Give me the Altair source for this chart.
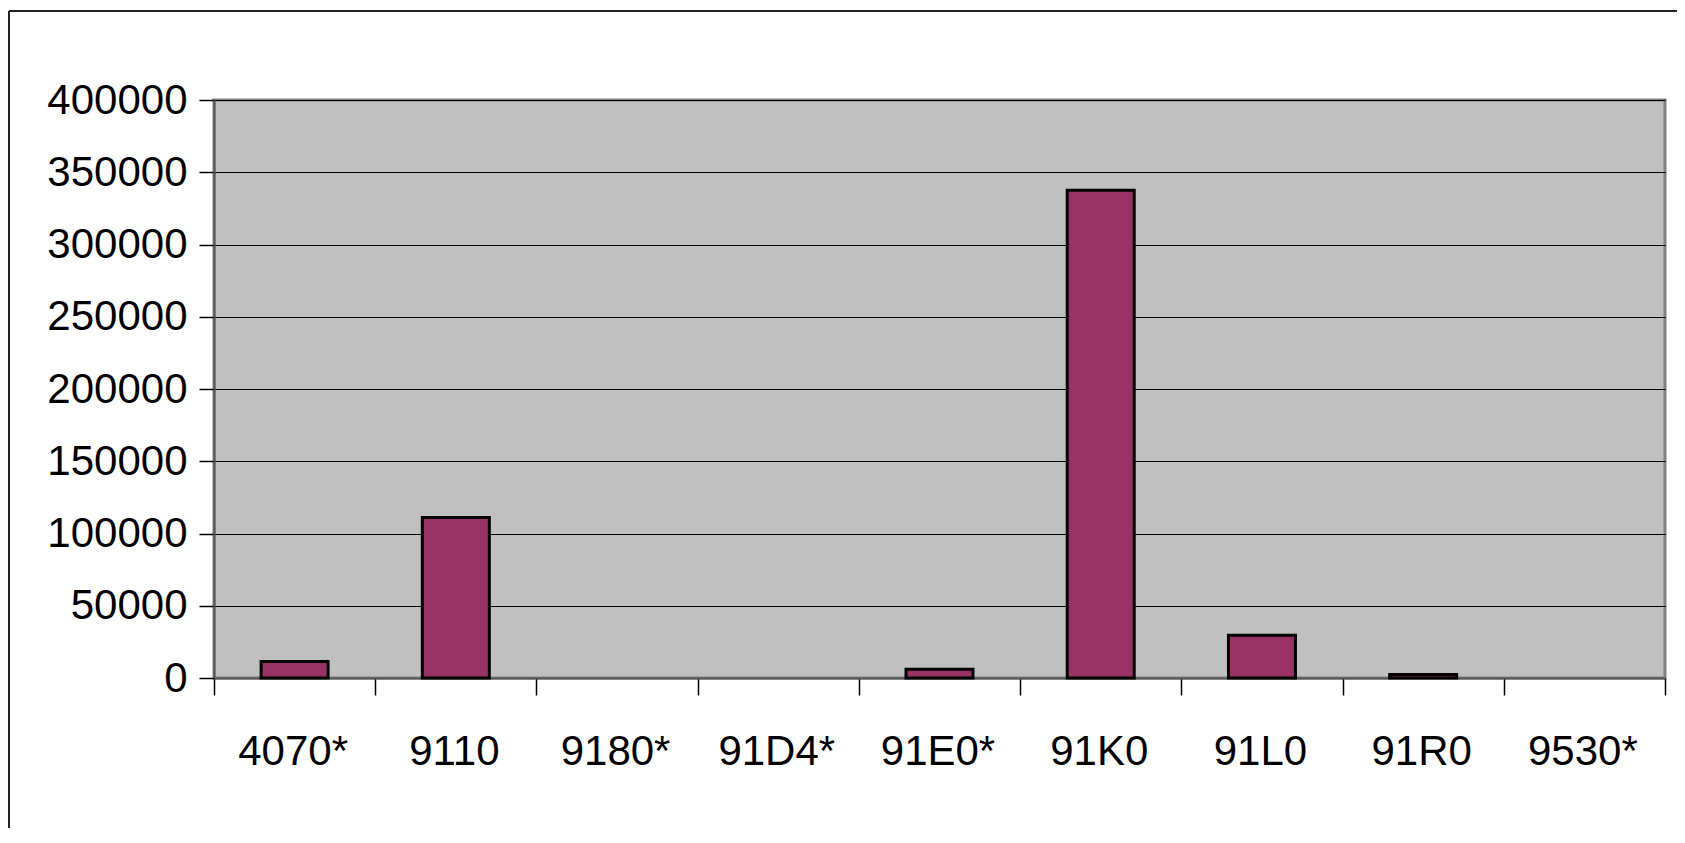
import altair as alt
import pandas as pd

categories = ["4070*", "9110", "9180*", "91D4*", "91E0*", "91K0", "91L0", "91R0", "9530*"]
values = [11500, 111000, 0, 0, 6000, 337500, 29500, 2500, 0]
y_ticks = [0, 50000, 100000, 150000, 200000, 250000, 300000, 350000, 400000]

df = pd.DataFrame({"cat": categories, "val": values})

FONT = "Liberation Sans, Arial, sans-serif"
FS = 42
W, H = 1451, 578

bars = alt.Chart(df).transform_filter("datum.val > 0").mark_bar(
    size=67, color="#993366", stroke="black", strokeWidth=3
).encode(
    x=alt.X("cat:N", sort=categories, title=None,
            scale=alt.Scale(domain=categories, paddingInner=0, paddingOuter=0),
            axis=alt.Axis(labelAngle=0, labelFont=FONT, labelFontSize=FS,
                          labelColor="black", labelPadding=36, labelOffset=-2,
                          tickBand="extent", tickSize=17, tickColor="black",
                          tickWidth=1.5, domainColor="#555555", domainWidth=2,
                          grid=False)),
    y=alt.Y("val:Q", title=None,
            scale=alt.Scale(domain=[0, 400000], nice=False),
            axis=alt.Axis(values=y_ticks, format="d", labelFont=FONT,
                          labelFontSize=FS, labelColor="black", labelPadding=12,
                          tickSize=15, tickColor="black", tickWidth=1.5,
                          domainColor="#555555", domainWidth=2,
                          grid=True, gridColor="black", gridWidth=1.2,
                          gridOpacity=1)),
)

border_style = dict(color="#222222", strokeWidth=2, clip=False)
left_b = alt.Chart(df).mark_rule(**border_style).encode(
    x=alt.value(-205), y=alt.value(-89), y2=alt.value(745))
top_b = alt.Chart(df).mark_rule(**border_style).encode(
    x=alt.value(-205), x2=alt.value(1469), y=alt.value(-89))
right_b = alt.Chart(df).mark_rule(**border_style).encode(
    x=alt.value(1469), y=alt.value(-89), y2=alt.value(745))

chart = alt.layer(bars, left_b, top_b, right_b).properties(
    width=W, height=H,
    autosize=alt.AutoSizeParams(type="none"),
    padding={"left": 206, "top": 92, "right": 12, "bottom": 150},
    background="white",
).configure_view(
    fill="#C0C0C0", stroke="#808080", strokeWidth=3
)

chart.save("out.html", embed_options={"renderer": "svg", "actions": False})
